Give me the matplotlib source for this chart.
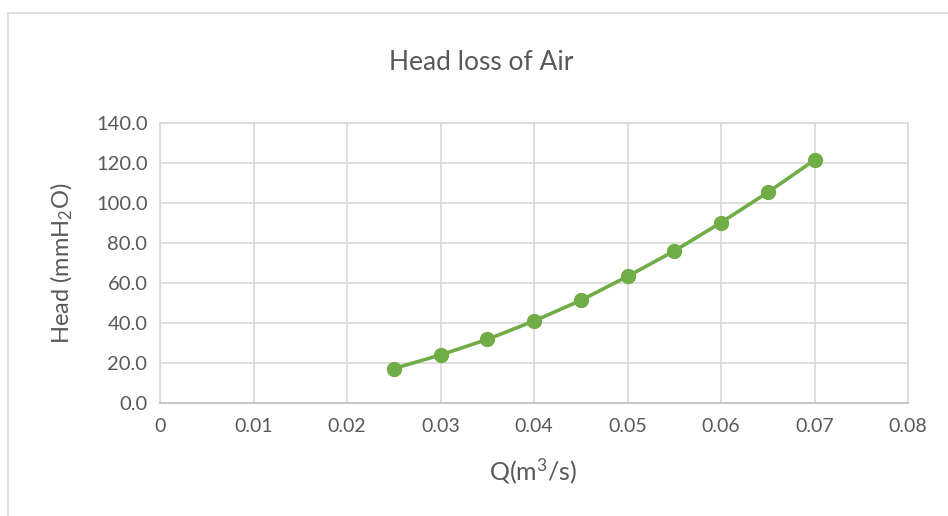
import matplotlib.pyplot as plt
from matplotlib.lines import Line2D

plt.rcParams['font.family'] = ['Lato', 'DejaVu Sans']
plt.rcParams['mathtext.fontset'] = 'custom'
plt.rcParams['mathtext.rm'] = 'Lato'
plt.rcParams['mathtext.it'] = 'Lato:italic'

# datos
caudal = [0.025, 0.030, 0.035, 0.040, 0.045, 0.050, 0.055, 0.060, 0.065, 0.070]
head = [17.2, 24.0, 31.8, 41.0, 51.3, 63.3, 76.0, 90.2, 105.3, 121.5]
xticks = [0, 0.01, 0.02, 0.03, 0.04, 0.05, 0.06, 0.07, 0.08]
xlabels = ['0', '0.01', '0.02', '0.03', '0.04', '0.05', '0.06', '0.07', '0.08']
yticks = [0, 20, 40, 60, 80, 100, 120, 140]

gris = '#595959'
grid = '#d9d9d9'

fig = plt.figure(figsize=(9.48, 5.16), dpi=100)
ax = fig.add_axes([160/948, 1-403/516, 748/948, 280/516])

ax.plot(caudal, head, color='#70AD47', linewidth=2.6, marker='o',
        markersize=10, zorder=3)

ax.set_xlim(0, 0.08)
ax.set_ylim(0, 140)
ax.set_xticks(xticks)
ax.set_xticklabels(xlabels)
ax.set_yticks(yticks)
ax.set_yticklabels([f'{v:.1f}' for v in yticks])
ax.grid(True, color=grid, linewidth=1.2)
ax.tick_params(axis='y', length=0, labelsize=14.5, labelcolor=gris, pad=9)
ax.tick_params(axis='x', length=0, labelsize=14, labelcolor=gris, pad=11)
for s in ax.spines.values():
    s.set_color(grid)
    s.set_linewidth(1.2)
ax.spines['bottom'].set_color('#bfbfbf')

fig.text(62/948, 1-263/516, 'Head (mmH$_2$O)', rotation=90, ha='center',
         va='center', fontsize=17, color=gris)
fig.text(533/948, 1-471/516, 'Q(m$^3$/s)', ha='center', va='center',
         fontsize=18, color=gris)
fig.text(481/948, 1-62/516, 'Head loss of Air', ha='center', va='center',
         fontsize=19, color=gris)

# borde del grafico
fig.add_artist(Line2D([8/948, 8/948], [0, 1-13/516], color=grid, linewidth=1.2))
fig.add_artist(Line2D([8/948, 1], [1-13/516, 1-13/516], color=grid, linewidth=1.2))

fig.savefig('out.png', dpi=100)
